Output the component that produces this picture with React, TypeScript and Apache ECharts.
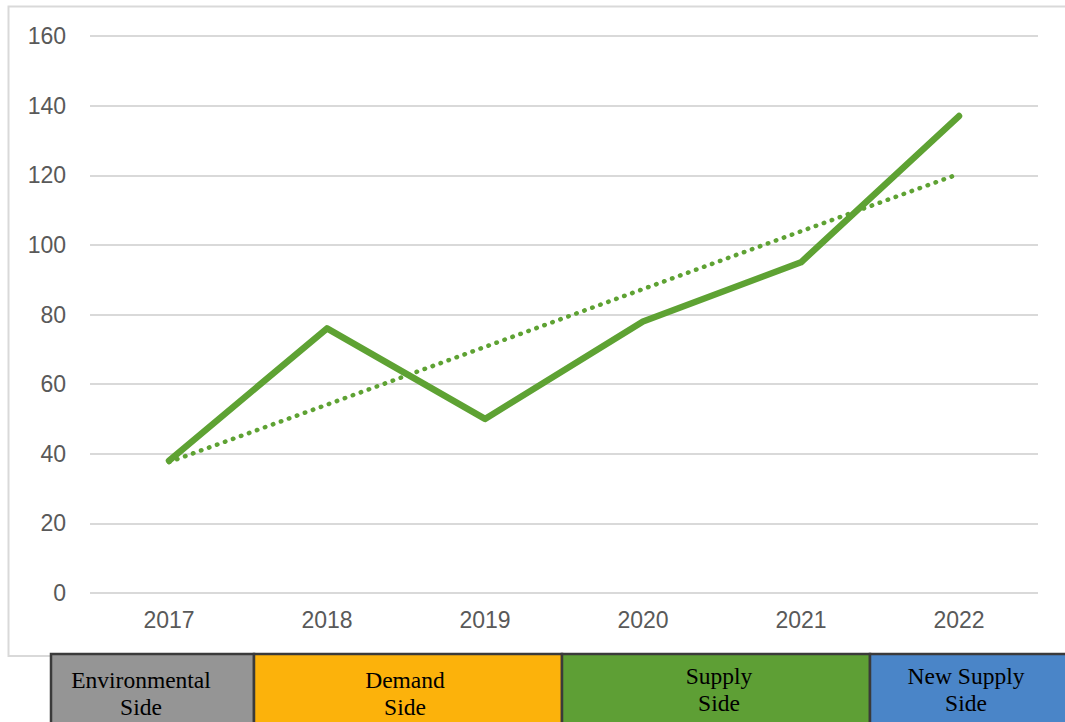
import React, { useEffect, useRef } from "react";
import * as echarts from "echarts";

const years = ["2017", "2018", "2019", "2020", "2021", "2022"];
const values = [38, 76, 50, 78, 95, 137];
const trendValues = [37.6, 54.1, 70.7, 87.3, 103.9, 120.4];

const sideLabels = ["Environmental\nSide", "Demand\nSide", "Supply\nSide", "New Supply\nSide"];
const sideColors = ["#959595", "#fcb20b", "#5e9f35", "#4a85c8"];

const GREEN = "#5ea233";

export default function App() {
  const ref = useRef<HTMLDivElement>(null);
  useEffect(() => {
    if (!ref.current) return;
    const chart = echarts.init(ref.current, null, { renderer: "svg" });

    const boxes = [
      { x: 51, w: 203, tx: 141, ty: 693 },
      { x: 254, w: 308, tx: 405, ty: 693 },
      { x: 562, w: 308, tx: 719, ty: 689 },
      { x: 870, w: 205, tx: 966, ty: 689 },
    ];

    const graphic: any[] = [
      {
        type: "rect",
        shape: { x: 8.5, y: 6.5, width: 1070, height: 649.5 },
        style: { fill: "none", stroke: "#d9d9d9", lineWidth: 2 },
        z: -10,
      },
    ];
    boxes.forEach((b, i) => {
      graphic.push({
        type: "rect",
        shape: { x: b.x, y: 654, width: b.w, height: 80 },
        style: { fill: sideColors[i], stroke: "#3a3a3a", lineWidth: 2.5 },
        z: 10,
      });
      graphic.push({
        type: "text",
        x: b.tx,
        y: b.ty,
        style: {
          text: sideLabels[i],
          fill: "#000",
          font: '23.5px "Liberation Serif", "Times New Roman", serif',
          align: "center",
          verticalAlign: "middle",
          lineHeight: 27,
        },
        z: 11,
      });
    });

    chart.setOption({
      animation: false,
      backgroundColor: "#fff",
      grid: { left: 90, right: 27, top: 36, bottom: 129, containLabel: false },
      xAxis: {
        type: "category",
        data: years,
        boundaryGap: true,
        axisLine: { show: false },
        axisTick: { show: false },
        axisLabel: {
          color: "#595959",
          fontSize: 23,
          fontFamily: '"Liberation Sans", Arial, sans-serif',
          margin: 15,
        },
      },
      yAxis: {
        type: "value",
        min: 0,
        max: 160,
        interval: 20,
        axisLine: { show: false },
        axisTick: { show: false },
        axisLabel: {
          color: "#595959",
          fontSize: 23,
          fontFamily: '"Liberation Sans", Arial, sans-serif',
          margin: 24,
        },
        splitLine: { lineStyle: { color: "#d9d9d9", width: 2 } },
      },
      series: [
        {
          type: "line",
          data: trendValues,
          symbol: "none",
          lineStyle: { color: GREEN, width: 4.5, type: [0.5, 8], cap: "round" },
          z: 2,
        },
        {
          type: "line",
          data: values,
          symbol: "none",
          lineStyle: { color: GREEN, width: 6.5, cap: "round", join: "round" },
          z: 3,
        },
      ],
      graphic,
    });
    return () => chart.dispose();
  }, []);

  return (
    <div
      ref={ref}
      style={{ position: "absolute", left: 0, top: 0, width: 1065, height: 722 }}
    />
  );
}
